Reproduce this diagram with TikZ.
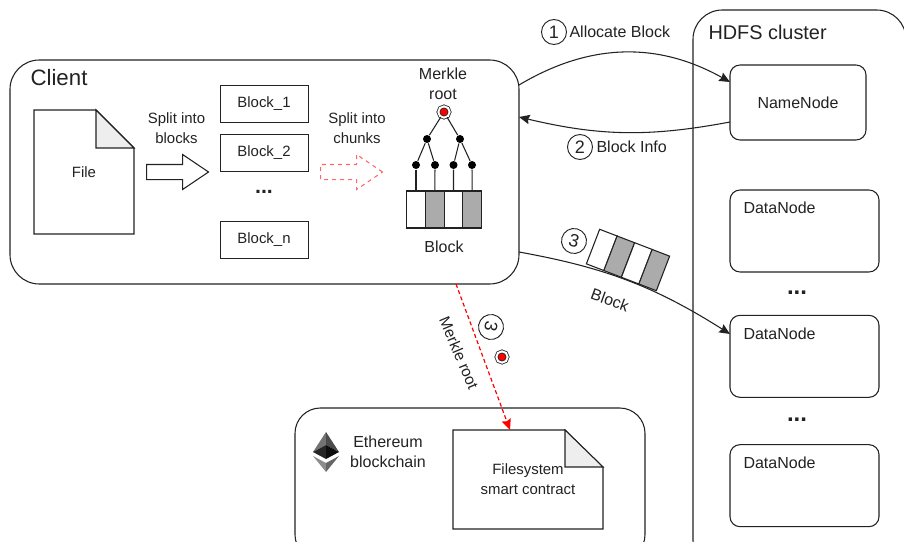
\documentclass[tikz,border=0pt]{standalone}
\usepackage{fontspec}
\setmainfont{Liberation Sans}
\usepackage{xcolor}
\usetikzlibrary{calc}
\usetikzlibrary{arrows.meta}
\usetikzlibrary{positioning}
\usetikzlibrary{shapes.arrows}

\definecolor{inkline}{HTML}{222222}
\definecolor{earfill}{HTML}{EEEEEE}
\definecolor{cellgray}{HTML}{ABABAB}
\definecolor{splitred}{HTML}{FF6666}

\tikzset{
  smalltext/.style={font=\fontsize{11.2}{15}\selectfont, align=center, text=inkline},
  midtext/.style={font=\fontsize{12}{15}\selectfont, align=center, text=inkline},
  lefttext/.style={midtext, anchor=west, inner sep=0pt},
  panel/.style={draw=inkline, rounded corners=22pt, line width=0.8pt},
  server/.style={draw=inkline, rounded corners=7.5pt, line width=0.8pt},
  blockbox/.style={draw=inkline, line width=0.75pt, minimum width=66pt, minimum height=27.75pt, smalltext},
  whitecell/.style={draw=inkline, line width=0.8pt, fill=white, minimum width=14.06pt, minimum height=27.75pt, inner sep=0pt},
  graycell/.style={whitecell, fill=cellgray},
  merkledot/.style={circle, fill=black, minimum size=6pt, inner sep=0pt},
  merkleroot/.style={circle, draw=inkline, line width=0.6pt, double=white, double distance=1.5pt, fill=red, minimum size=8.5pt, inner sep=0pt},
  stepnum/.style={circle, draw=inkline, line width=0.7pt, minimum size=18.75pt, inner sep=0pt, font=\fontsize{13.5}{14}\selectfont, text=inkline},
  splitarrow/.style={single arrow, draw, anchor=west, line width=0.8pt, minimum height=46.5pt, inner xsep=0pt, inner ysep=5.25pt, single arrow head extend=7.5pt, single arrow tip angle=68, single arrow head indent=0pt},
  dots/.style={font=\fontsize{16}{18}\bfseries\selectfont, text=inkline},
  tip/.style={-{Stealth[inset=1pt, length=8pt, width=7pt]}}
}

\begin{document}
\begin{tikzpicture}[x=0.75pt, y=-0.75pt, on grid, line width=0.8pt]

        \clip (0,0) rectangle (904,542);

        \node[panel, minimum width=381.75pt, minimum height=168pt]  (client) at (264.5,172) {};
        \node[panel, minimum width=159.75pt, minimum height=420pt]  (hdfs) at (799.5,290) {};
        \node[panel, rounded corners=19pt, minimum width=262.5pt, minimum height=114pt]  (eth) at (470,484) {};

        \node[lefttext, font=\fontsize{16.7}{18}\selectfont]  (clienttitle) at (30,78) {Client};
        \node[lefttext, font=\fontsize{14.9}{18}\selectfont]  (hdfstitle) at (708,32) {HDFS cluster};

        % file on the client
        \node[smalltext, outer sep=0pt, minimum width=75pt, minimum height=93pt]  (file) at (84,172) {File};
        \draw[draw=inkline] (file.north west) -- ($(file.north east)+(-38,0)$) -- ($(file.north east)+(0,38)$) -- (file.south east) -- (file.south west) -- cycle;
        \draw[draw=inkline, fill=earfill] ($(file.north east)+(-38,0)$) -- ($(file.north east)+(0,38)$) -- ($(file.north east)+(-38,38)$) -- cycle;

        \node[splitarrow, draw=inkline]  (blockarrow) at (146,172) {};
        \node[smalltext]  (blocktext) at (176.5,128) {Split into\\blocks};

        \node[blockbox]  (block1) at (264,104) {Block\_1};
        \node[blockbox]  (block2) [below=36.75pt of block1] {Block\_2};
        \node[dots]  (blockdots) [below=29.5pt of block2] {...};
        \node[blockbox]  (blockn) [below=65.25pt of block2] {Block\_n};

        \node[splitarrow, draw=splitred, dashed]  (chunkarrow) at (320,172) {};
        \node[smalltext]  (chunktext) at (357,128) {Split into\\chunks};

        % merkle tree
        \node[midtext]  (merkletext) at (443,84) {Merkle\\root};
        \node[merkleroot]  (root) at (444,112) {};
        \node[merkledot]  (m1) at (427,139) {};
        \node[merkledot]  (m2) at (460,139) {};
        \node[merkledot]  (l1) at (416,165) {};
        \node[merkledot]  (l2) at (435,165) {};
        \node[merkledot]  (l3) at (453.5,165) {};
        \node[merkledot]  (l4) at (472,165) {};

        \node[whitecell]  (c1) at (416,209.5) {};
        \node[graycell]  (c2) [right=14.06pt of c1] {};
        \node[whitecell]  (c3) [right=14.06pt of c2] {};
        \node[graycell]  (c4) [right=14.06pt of c3] {};
        \node[midtext]  (blocklabel) at (444,247) {Block};

        \path [color=inkline]
          (root) edge (m1)
          (root) edge (m2)
          (m1) edge (l1)
          (m1) edge (l2)
          (m2) edge (l3)
          (m2) edge (l4)
          (l1) edge (c1)
          (l2) edge (c2)
          (l3) edge (c3)
          (l4) edge (c4);

        % hdfs nodes
        \node[server, midtext, minimum width=102pt, minimum height=56.25pt]  (namenode) at (798,102.5) {NameNode};
        \node[server, minimum width=111.75pt, minimum height=61.5pt]  (data1) at (804.5,231) {};
        \node[server, minimum width=111.75pt, minimum height=61.5pt]  (data2) [below=94pt of data1] {};
        \node[server, minimum width=111.75pt, minimum height=61.5pt]  (data3) [below=97pt of data2] {};
        \node[lefttext]  (data1text) at (743,208) {DataNode};
        \node[lefttext]  (data2text) at (743,334) {DataNode};
        \node[lefttext]  (data3text) at (743,463) {DataNode};
        \node[dots, font=\fontsize{18}{20}\bfseries\selectfont]  (datadots1) at (797,293) {...};
        \node[dots, font=\fontsize{18}{20}\bfseries\selectfont]  (datadots2) at (797,420) {...};

        % ethereum logo
        \fill[fill=black!55] (326,432) -- (313,452) -- (326,445) -- cycle;
        \fill[fill=black!70] (326,432) -- (339,452) -- (326,445) -- cycle;
        \fill[fill=black!85] (326,445) -- (313,452) -- (326,459) -- cycle;
        \fill[fill=black!95] (326,445) -- (339,452) -- (326,459) -- cycle;
        \fill[fill=black!45] (313,456) -- (326,472) -- (326,463) -- cycle;
        \fill[fill=black!60] (339,456) -- (326,472) -- (326,463) -- cycle;
        \node[midtext]  (ethtext) at (388,452) {Ethereum\\blockchain};

        \node[smalltext, outer sep=0pt, minimum width=112.5pt, minimum height=74.25pt]  (contract) at (528,479.5) {Filesystem\\smart contract};
        \draw[draw=inkline] (contract.north west) -- ($(contract.north east)+(-38,0)$) -- ($(contract.north east)+(0,37)$) -- (contract.south east) -- (contract.south west) -- cycle;
        \draw[draw=inkline, fill=earfill] ($(contract.north east)+(-38,0)$) -- ($(contract.north east)+(0,37)$) -- ($(contract.north east)+(-38,37)$) -- cycle;

        % steps between client and cluster
        \node[stepnum]  (step1) at (554,32) {1};
        \node[lefttext]  (step1text) at (569,32) {Allocate Block};
        \node[stepnum]  (step2) at (580,147) {2};
        \node[lefttext]  (step2text) at (596,147) {Block Info};
        \node[stepnum, rotate=-15]  (step3a) at (574,241) {3};
        \node[stepnum, rotate=-100]  (step3b) at (491,327) {3};
        \node[merkleroot]  (rootcopy) at (502,357) {};

        \node[midtext, rotate=-20]  (blocksent) at (610,300) {Block};
        \node[midtext, font=\fontsize{11.6}{15}\selectfont, rotate=-67]  (rootsent) at (459,353) {Merkle root};

        \coordinate (allocfrom) at (519,85);
        \coordinate (allocto) at (730,82);
        \coordinate (infofrom) at (730,122);
        \coordinate (infoto) at (519,117);
        \coordinate (blockfrom) at (519,252);
        \coordinate (blockto) at (730,334);
        \coordinate (rootfrom) at (456,284);
        \coordinate (rootto) at (510,430);

        \path [tip, color=inkline]
          (allocfrom) edge [bend left=30] (allocto)
          (infofrom) edge [bend left=12] (infoto)
          (blockfrom) edge [bend left=11] (blockto);

        \path [tip, color=red, dash pattern=on 3pt off 2pt, line width=0.9pt]
          (rootfrom) edge (rootto);

        \begin{scope}[shift={(628,260)}, rotate=-21, transform shape]
          \node[whitecell]  (s1) at (-28.1,0) {};
          \node[graycell]  (s2) at (-9.4,0) {};
          \node[whitecell]  (s3) at (9.4,0) {};
          \node[graycell]  (s4) at (28.1,0) {};
        \end{scope}

\end{tikzpicture}
\end{document}
